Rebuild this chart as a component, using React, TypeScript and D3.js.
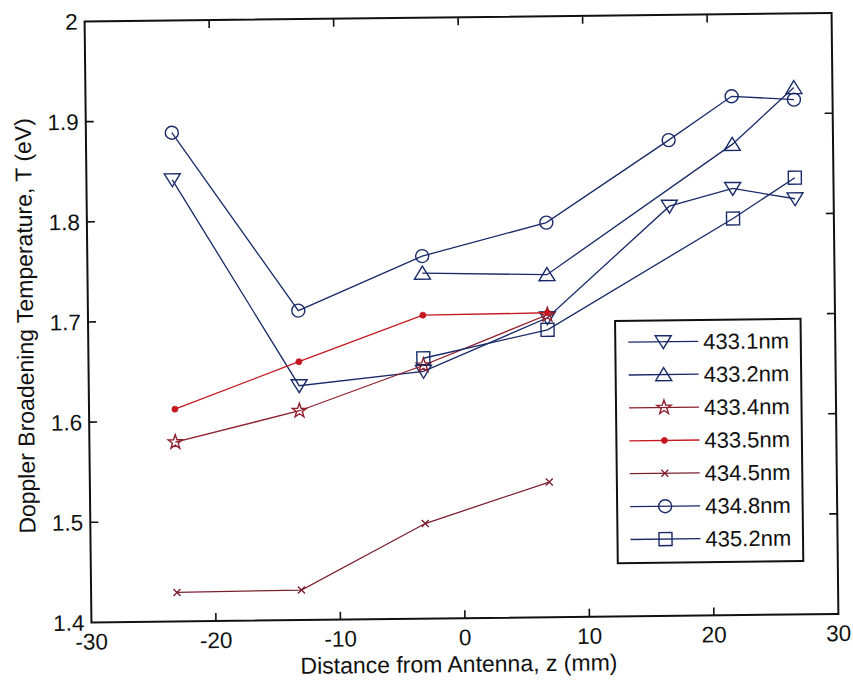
import React from 'react';
import * as d3 from 'd3';

// measurement positions (mm)
const zAll = [-23.1, -13.1, -3.1, 6.9, 16.8, 21.9, 26.9];
const zInner = [-23.1, -13.1, -3.1, 6.9];
const zOuter = [-3.1, 6.9, 21.9, 26.9];

// Doppler temperatures (eV)
const t4331 = [1.841, 1.634, 1.647, 1.699, 1.809, 1.826, 1.815];
const t4332 = [1.745, 1.742, 1.870, 1.926];
const t4334 = [1.579, 1.609, 1.653, 1.702];
const t4335 = [1.612, 1.658, 1.703, 1.704];
const t4345 = [1.429, 1.430, 1.495, 1.535];
const t4348 = [1.888, 1.709, 1.762, 1.794, 1.875, 1.918, 1.914];
const t4352 = [1.660, 1.687, 1.796, 1.836];

const xTicks = [-30, -20, -10, 0, 10, 20, 30];
const yTicks = [1.4, 1.5, 1.6, 1.7, 1.8, 1.9, 2.0];
const yTickLabels = ['1.4', '1.5', '1.6', '1.7', '1.8', '1.9', '2'];

const BLUE = '#182a68';
const series = [
  { name: '433.1nm', marker: 'v', color: BLUE, z: zAll, t: t4331 },
  { name: '433.2nm', marker: '^', color: BLUE, z: zOuter, t: t4332 },
  { name: '433.4nm', marker: 'p', color: '#8e1f2c', z: zInner, t: t4334 },
  { name: '433.5nm', marker: '.', color: '#c4181f', z: zInner, t: t4335 },
  { name: '434.5nm', marker: 'x', color: '#7c2030', z: zInner, t: t4345 },
  { name: '434.8nm', marker: 'o', color: BLUE, z: zAll, t: t4348 },
  { name: '435.2nm', marker: 's', color: BLUE, z: zOuter, t: t4352 },
];

const W = 853, H = 684;
const font = '"Liberation Sans", Arial, Helvetica, sans-serif';

function starPath(ro: number, ri: number) {
  const pts: string[] = [];
  for (let i = 0; i < 10; i++) {
    const r = i % 2 === 0 ? ro : ri;
    const a = -Math.PI / 2 + (i * Math.PI) / 5;
    pts.push(`${(r * Math.cos(a)).toFixed(2)},${(r * Math.sin(a)).toFixed(2)}`);
  }
  return 'M' + pts.join('L') + 'Z';
}

function Marker({ kind, cx, cy, color }: { kind: string; cx: number; cy: number; color: string }) {
  const common = { fill: 'none', stroke: color, strokeWidth: 1.4 };
  const tr = `translate(${cx},${cy})`;
  switch (kind) {
    case 'v': return <path transform={tr} d="M-8,-6L8,-6L0,7Z" {...common} />;
    case '^': return <path transform={tr} d="M0,-7L8,6L-8,6Z" {...common} />;
    case 'o': return <circle cx={cx} cy={cy} r={6.5} {...common} />;
    case 's': return <rect x={cx - 6.5} y={cy - 6.5} width={13} height={13} {...common} />;
    case 'p': return <path transform={tr} d={starPath(7.5, 3)} {...common} />;
    case '.': return <circle cx={cx} cy={cy} r={3} fill={color} stroke={color} strokeWidth={0.8} />;
    case 'x': return <path transform={tr} d="M-3.5,-3.5L3.5,3.5M-3.5,3.5L3.5,-3.5" {...common} />;
    default: return null;
  }
}

export default function App() {
  const x = d3.scaleLinear().domain([-30, 30]).range([88, 835]);
  const y = d3.scaleLinear().domain([1.4, 2]).range([618.25, 17.25]);
  const line = d3.line<[number, number]>().x(d => x(d[0])).y(d => y(d[1]));
  const [x0, x1] = x.range();
  const [y0, y1] = y.range();

  const legX = 615, legY = 322.7, legW = 185.5, legH = 242.2, rowH = 32.9;

  return (
    <svg width={W} height={H} style={{ position: 'absolute', left: 0, top: 0, display: 'block', background: '#fff' }}>
      <g transform="rotate(-0.65 461.5 318)" fontFamily={font}>
        {/* data */}
        {series.map(s => {
          const pts = s.z.map((z, i) => [z, s.t[i]] as [number, number]);
          return (
            <g key={s.name}>
              <path d={line(pts) || ''} fill="none" stroke={s.color} strokeWidth={1.3} />
              {pts.map((p, i) => (
                <Marker key={i} kind={s.marker} cx={x(p[0])} cy={y(p[1])} color={s.color} />
              ))}
            </g>
          );
        })}

        {/* axes box */}
        <rect x={x0} y={y1} width={x1 - x0} height={y0 - y1} fill="none" stroke="#111" strokeWidth={2} />
        {xTicks.slice(1, -1).map(t => (
          <g key={'xt' + t} stroke="#111" strokeWidth={1.6}>
            <line x1={x(t)} x2={x(t)} y1={y0} y2={y0 - 8} />
            <line x1={x(t)} x2={x(t)} y1={y1} y2={y1 + 8} />
          </g>
        ))}
        {yTicks.slice(1, -1).map(t => (
          <g key={'yt' + t} stroke="#111" strokeWidth={1.6}>
            <line x1={x0} x2={x0 + 8} y1={y(t)} y2={y(t)} />
            <line x1={x1} x2={x1 - 8} y1={y(t)} y2={y(t)} />
          </g>
        ))}
        {xTicks.map(t => (
          <text key={'xl' + t} x={x(t)} y={y0 + 27} textAnchor="middle" fontSize={22.5} fill="#111">{t}</text>
        ))}
        {yTicks.map((t, i) => (
          <text key={'yl' + t} x={x0 - 7} y={y(t)} dy="0.36em" textAnchor="end" fontSize={22.5} fill="#111">{yTickLabels[i]}</text>
        ))}
        <text x={455} y={672} textAnchor="middle" fontSize={23} fill="#111">Distance from Antenna, z (mm)</text>
        <text transform="translate(33,321) rotate(-90)" textAnchor="middle" fontSize={23} fill="#111">
          Doppler Broadening Temperature, T (eV)
        </text>

        {/* legend */}
        <rect x={legX} y={legY} width={legW} height={legH} fill="#fff" stroke="#111" strokeWidth={2} />
        {series.map((s, i) => {
          const cy = legY + 21.3 + i * rowH;
          return (
            <g key={'lg' + s.name}>
              <line x1={628} x2={698} y1={cy} y2={cy} stroke={s.color} strokeWidth={1.3} />
              <Marker kind={s.marker} cx={663} cy={cy} color={s.color} />
              <text x={703} y={cy} dy="0.36em" fontSize={22} fill="#111">{s.name}</text>
            </g>
          );
        })}
      </g>
    </svg>
  );
}
